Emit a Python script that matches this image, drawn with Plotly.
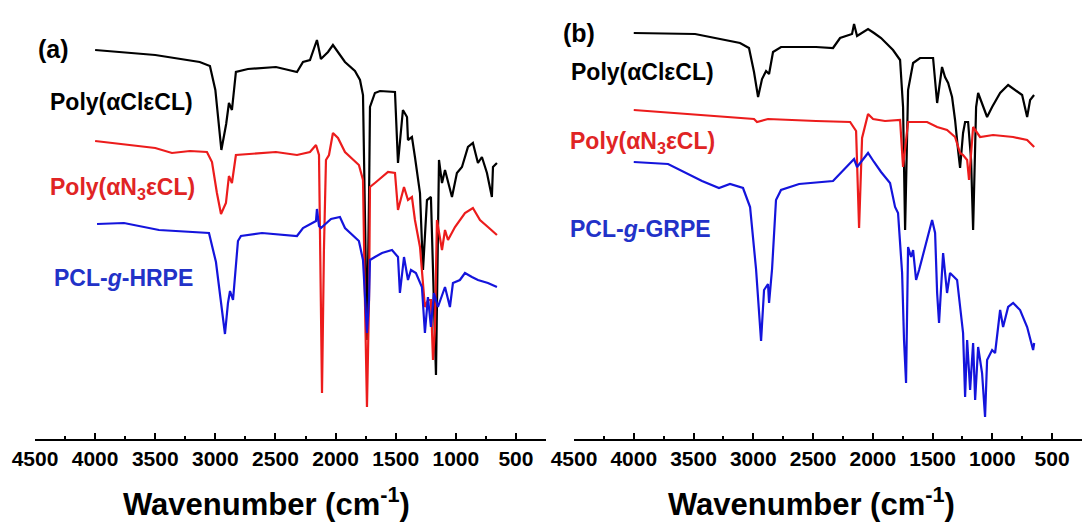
import plotly.graph_objects as go

# ---------------- data (wavenumber in cm-1, offset transmittance in a.u.) -------------
A_CL_X = [4000, 3500, 3130, 3045, 3000, 2950, 2910, 2887, 2862, 2829, 2729, 2496, 2321, 2271, 2213, 2155,
          2122, 2063, 2022, 1980, 1922, 1839, 1797, 1772, 1756, 1739, 1722, 1714, 1673, 1631, 1506, 1481,
          1440, 1406, 1398, 1365, 1340, 1298, 1273, 1240, 1207, 1190, 1165, 1140, 1115, 1090, 1032, 991,
          949, 899, 858, 816, 783, 741, 700, 691, 658]
A_CL_Y = [389, 384, 377, 373, 349, 289, 315, 336, 329, 367, 370, 372, 367, 377, 379, 399,
          380, 387, 394, 387, 377, 368, 359, 344, 239, 99, 239, 332, 346, 348, 347, 276,
          329, 322, 299, 302, 282, 246, 169, 239, 242, 166, 64, 279, 256, 269, 242, 266,
          272, 292, 296, 276, 282, 266, 242, 272, 276]

A_N3_X = [4000, 3500, 3361, 3211, 3070, 3028, 2987, 2953, 2912, 2887, 2862, 2829, 2496, 2321, 2213, 2163,
          2138, 2130, 2113, 2097, 2080, 2055, 2022, 1980, 1922, 1806, 1772, 1756, 1739, 1722, 1714, 1673,
          1614, 1564, 1506, 1481, 1431, 1398, 1365, 1340, 1298, 1257, 1232, 1207, 1190, 1174, 1157, 1115,
          1090, 1065, 1007, 924, 858, 799, 733, 658]
A_N3_Y = [298, 291, 286, 288, 287, 277, 246, 225, 236, 263, 256, 284, 287, 284, 287, 294,
          284, 189, 46, 189, 279, 284, 306, 301, 287, 274, 259, 139, 32, 139, 252, 256,
          262, 267, 266, 229, 252, 239, 242, 219, 192, 132, 139, 139, 79, 109, 219, 189,
          209, 199, 212, 226, 231, 219, 212, 204]

A_HR_X = [3984, 3760, 3469, 3128, 3053, 2995, 2953, 2920, 2895, 2878, 2853, 2812, 2787, 2612, 2321, 2271,
          2163, 2155, 2138, 2122, 2038, 1964, 1922, 1806, 1772, 1756, 1739, 1722, 1714, 1673, 1614, 1531,
          1481, 1465, 1431, 1398, 1373, 1332, 1282, 1257, 1232, 1207, 1182, 1149, 1090, 1049, 1024, 966,
          924, 866, 816, 733, 658]
A_HR_Y = [215, 216, 209, 206, 206, 177, 136, 105, 136, 148, 139, 198, 203, 206, 203, 211,
          218, 230, 213, 211, 220, 222, 211, 198, 179, 139, 106, 139, 179, 182, 186, 189,
          182, 146, 182, 159, 169, 166, 152, 106, 142, 112, 146, 132, 152, 132, 156, 159,
          166, 162, 159, 156, 152]

B_CL_X = [4000, 3487, 3111, 3036, 2994, 2960, 2927, 2893, 2868, 2835, 2768, 2475, 2333, 2274, 2174, 2157,
          2132, 2040, 1990, 1931, 1831, 1772, 1747, 1730, 1705, 1663, 1605, 1496, 1462, 1421, 1396, 1370,
          1337, 1312, 1287, 1270, 1245, 1228, 1203, 1178, 1161, 1136, 1119, 1086, 1044, 1002, 935, 868,
          810, 751, 709, 684, 651]
B_CL_Y = [406, 405, 396, 391, 367, 342, 360, 368, 365, 387, 392, 392, 391, 401, 405, 415,
          403, 410, 406, 401, 389, 379, 332, 209, 349, 376, 381, 381, 336, 372, 362, 356,
          342, 319, 289, 271, 306, 317, 317, 279, 209, 332, 346, 336, 322, 332, 346, 354,
          349, 344, 322, 339, 344]

B_N3_X = [4000, 3345, 2994, 2969, 2877, 2475, 2190, 2140, 2115, 2090, 2040, 1998, 1898, 1772, 1747, 1705,
          1546, 1462, 1379, 1312, 1270, 1245, 1211, 1195, 1161, 1103, 994, 826, 709, 650]
B_N3_Y = [329, 323, 320, 317, 320, 318, 317, 308, 211, 301, 325, 320, 318, 319, 272, 317,
          317, 312, 309, 302, 286, 284, 279, 259, 312, 302, 304, 302, 299, 292]

B_GR_X = [4000, 3713, 3429, 3287, 3195, 3086, 3027, 2977, 2935, 2910, 2877, 2868, 2843, 2810, 2768, 2617,
          2333, 2216, 2157, 2132, 2040, 1990, 1931, 1856, 1814, 1789, 1755, 1739, 1722, 1705, 1680, 1663,
          1638, 1613, 1563, 1504, 1479, 1462, 1446, 1412, 1379, 1354, 1295, 1270, 1245, 1228, 1211, 1186,
          1161, 1144, 1119, 1086, 1061, 1044, 1002, 977, 935, 910, 868, 826, 768, 709, 659, 650]
B_GR_Y = [277, 275, 258, 251, 255, 251, 232, 170, 98, 149, 155, 136, 170, 239, 249, 255,
          258, 273, 280, 272, 286, 277, 267, 256, 232, 226, 166, 99, 56, 192, 182, 189,
          159, 169, 192, 219, 206, 146, 116, 186, 146, 166, 159, 132, 106, 42, 99, 49,
          96, 39, 92, 66, 22, 79, 89, 86, 129, 112, 132, 136, 129, 112, 89, 96]

X_TICKS = [4500, 4000, 3500, 3000, 2500, 2000, 1500, 1000, 500]
X_TICK_TEXT = [str(v) for v in X_TICKS]

LABELS_A = ["Poly(αClεCL)", "Poly(αN<sub>3</sub>εCL)", "PCL-<i>g</i>-HRPE"]
LABELS_B = ["Poly(αClεCL)", "Poly(αN<sub>3</sub>εCL)", "PCL-<i>g</i>-GRPE"]
PANELS = ["(a)", "(b)"]
XTITLE = "Wavenumber (cm<sup>-1</sup>)"

BLACK = "#000000"
RED = "#ec1c1c"
BLUE = "#1414dc"
RED_T = "#e02424"
BLUE_T = "#2232c8"

W, H = 1083, 524
PLOT_BOTTOM = 439  # pixel of x axis line


def px(x):
    return x / W


def py(y):
    return (PLOT_BOTTOM - y) / PLOT_BOTTOM


fig = go.Figure()
for xs, ys, c, ax in [
    (A_CL_X, A_CL_Y, BLACK, "x"), (A_N3_X, A_N3_Y, RED, "x"), (A_HR_X, A_HR_Y, BLUE, "x"),
    (B_CL_X, B_CL_Y, BLACK, "x2"), (B_N3_X, B_N3_Y, RED, "x2"), (B_GR_X, B_GR_Y, BLUE, "x2"),
]:
    fig.add_trace(go.Scatter(x=xs, y=ys, mode="lines", line=dict(color=c, width=2.2),
                             xaxis=ax, yaxis="y", showlegend=False, hoverinfo="skip"))

axis_common = dict(
    range=[4500, 250], tickmode="array", tickvals=X_TICKS, ticktext=X_TICK_TEXT,
    ticks="inside", ticklen=6, tickwidth=2, tickcolor="black",
    minor=dict(ticks="inside", ticklen=3, tickwidth=1.5, dtick=250, tick0=0, tickcolor="black"),
    showline=True, linewidth=2, linecolor="black", showgrid=False, zeroline=False,
    tickfont=dict(family="Liberation Sans, Arial, sans-serif", size=21, color="black", weight="bold"),
    ticklabelstandoff=0, fixedrange=True, automargin=False,
)
fig.update_layout(
    width=W, height=H,
    margin=dict(l=0, r=0, t=0, b=H - PLOT_BOTTOM, autoexpand=False),
    paper_bgcolor="white", plot_bgcolor="white",
    xaxis=dict(domain=[px(35), px(546)], anchor="y", **axis_common),
    xaxis2=dict(domain=[px(574), px(1082)], anchor="y", **axis_common),
    yaxis=dict(range=[0, PLOT_BOTTOM], visible=False, fixedrange=True, automargin=False),
)

lab_font = dict(family="Liberation Sans, Arial, sans-serif", size=23, weight="bold")
ann = []
ann.append(dict(text=PANELS[0], x=px(36), y=py(49), font=dict(lab_font, size=25, color=BLACK)))
ann.append(dict(text=PANELS[1], x=px(561), y=py(33), font=dict(lab_font, size=25, color=BLACK)))
for t, (xx, yy), col in zip(LABELS_A, [(48, 102), (48, 188), (52, 278)], [BLACK, RED_T, BLUE_T]):
    ann.append(dict(text=t, x=px(xx), y=py(yy), font=dict(lab_font, color=col)))
for t, (xx, yy), col in zip(LABELS_B, [(569, 72), (568, 142), (568, 229)], [BLACK, RED_T, BLUE_T]):
    ann.append(dict(text=t, x=px(xx), y=py(yy), font=dict(lab_font, color=col)))
for a in ann:
    a.update(xref="paper", yref="paper", xanchor="left", yanchor="middle", showarrow=False)
for cx in [266, 812]:
    ann.append(dict(text=XTITLE, x=px(cx), y=py(502), xref="paper", yref="paper",
                    xanchor="center", yanchor="middle", showarrow=False,
                    font=dict(family="Liberation Sans, Arial, sans-serif", size=31, color="black", weight="bold")))
fig.update_layout(annotations=ann)

fig.write_html("out.html", config={"displayModeBar": False},
               post_script="document.body.style.margin='0';document.body.style.padding='0';"
                           "document.body.style.overflow='hidden';")
